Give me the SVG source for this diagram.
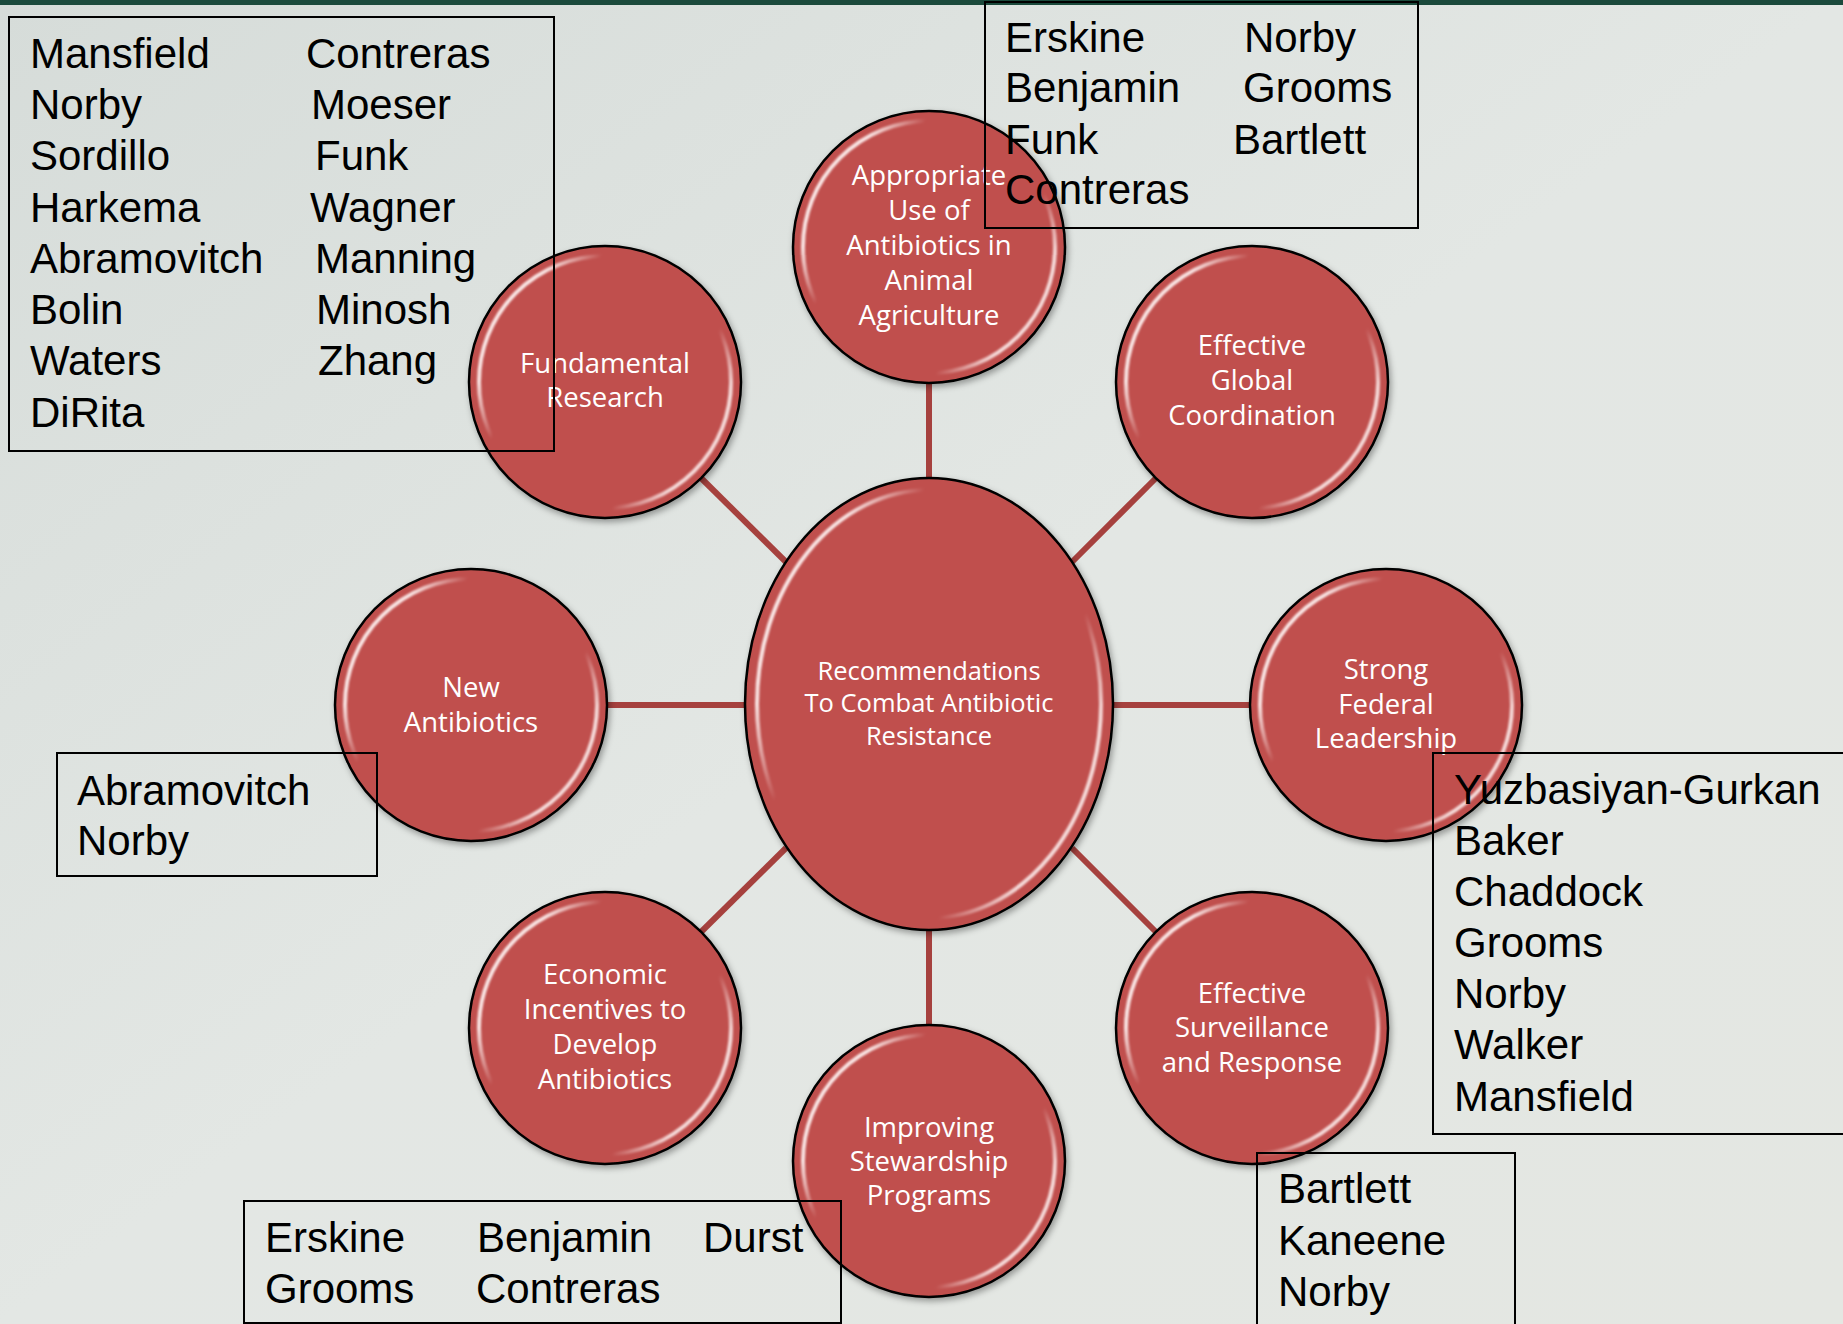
<svg xmlns="http://www.w3.org/2000/svg" width="1843" height="1324" viewBox="0 0 1843 1324">
  <defs>
    <linearGradient id="bgGrad" x1="0" y1="0" x2="1" y2="1">
      <stop offset="0" stop-color="#d6dcd9"/>
      <stop offset="0.5" stop-color="#e3e7e4"/>
      <stop offset="1" stop-color="#e4e7e2"/>
    </linearGradient>
    <linearGradient id="hlGrad" x1="0" y1="0.2" x2="1" y2="0.8">
      <stop offset="0" stop-color="#fff3f2" stop-opacity="0.95"/>
      <stop offset="0.13" stop-color="#fff3f2" stop-opacity="0.9"/>
      <stop offset="0.27" stop-color="#fff3f2" stop-opacity="0"/>
      <stop offset="0.74" stop-color="#fff3f2" stop-opacity="0"/>
      <stop offset="0.88" stop-color="#fff3f2" stop-opacity="0.85"/>
      <stop offset="1" stop-color="#fff3f2" stop-opacity="0.85"/>
    </linearGradient>
    <filter id="shadow" x="-20%" y="-20%" width="140%" height="140%">
      <feDropShadow dx="2" dy="3" stdDeviation="3" flood-color="#000" flood-opacity="0.35"/>
    </filter>
    <filter id="soft" x="-10%" y="-10%" width="120%" height="120%">
      <feGaussianBlur stdDeviation="1.3"/>
    </filter>
    <style>
      .conn { stroke: #a6413e; stroke-width: 6; fill: none; }
      .node { fill: #c0504d; stroke: #000; stroke-width: 2.5; filter: url(#shadow); }
      .hl { fill: none; stroke: url(#hlGrad); stroke-width: 4; filter: url(#soft); }
      .lbl { font-family: "Open Sans", "Noto Sans", sans-serif; font-size: 27.5px; fill: #ffffff; text-anchor: middle; }
      .clbl { font-family: "Open Sans", "Noto Sans", sans-serif; font-size: 25.5px; fill: #ffffff; text-anchor: middle; }
      .names { font-family: "Liberation Sans", Arial, sans-serif; font-size: 42px; fill: #000000; }
      .box { fill: none; stroke: #000; stroke-width: 2; }
    </style>
  </defs>

  <rect x="0" y="0" width="1843" height="1324" fill="url(#bgGrad)"/>
  <rect x="0" y="0" width="1843" height="5" fill="#1b4a3c"/>

  <g id="connectors">
    <line class="conn" x1="929" y1="383" x2="929" y2="478"/>
    <line class="conn" x1="929" y1="929" x2="929" y2="1025"/>
    <line class="conn" x1="607" y1="705" x2="746" y2="705"/>
    <line class="conn" x1="1112" y1="705" x2="1250" y2="705"/>
    <line class="conn" x1="701" y1="478" x2="786" y2="562"/>
    <line class="conn" x1="1156" y1="478" x2="1072" y2="562"/>
    <line class="conn" x1="701" y1="932" x2="786" y2="848"/>
    <line class="conn" x1="1156" y1="932" x2="1072" y2="848"/>
  </g>

  <g id="node-center">
    <ellipse class="node" cx="929" cy="704" rx="184" ry="226"/>
    <ellipse class="hl" cx="929" cy="704" rx="172" ry="214"/>
    <text class="clbl" x="929" y="680">Recommendations</text>
    <text class="clbl" x="929" y="712">To Combat Antibiotic</text>
    <text class="clbl" x="929" y="745">Resistance</text>
  </g>

  <g id="node-appropriate-use">
    <circle class="node" cx="929" cy="247" r="136"/>
    <circle class="hl" cx="929" cy="247" r="126"/>
    <text class="lbl" x="929" y="185">Appropriate</text>
    <text class="lbl" x="929" y="220">Use of</text>
    <text class="lbl" x="929" y="255">Antibiotics in</text>
    <text class="lbl" x="929" y="290">Animal</text>
    <text class="lbl" x="929" y="325">Agriculture</text>
  </g>

  <g id="node-fundamental-research">
    <circle class="node" cx="605" cy="382" r="136"/>
    <circle class="hl" cx="605" cy="382" r="126"/>
    <text class="lbl" x="605" y="373">Fundamental</text>
    <text class="lbl" x="605" y="407">Research</text>
  </g>

  <g id="node-global-coordination">
    <circle class="node" cx="1252" cy="382" r="136"/>
    <circle class="hl" cx="1252" cy="382" r="126"/>
    <text class="lbl" x="1252" y="355">Effective</text>
    <text class="lbl" x="1252" y="390">Global</text>
    <text class="lbl" x="1252" y="425">Coordination</text>
  </g>

  <g id="node-new-antibiotics">
    <circle class="node" cx="471" cy="705" r="136"/>
    <circle class="hl" cx="471" cy="705" r="126"/>
    <text class="lbl" x="471" y="697">New</text>
    <text class="lbl" x="471" y="732">Antibiotics</text>
  </g>

  <g id="node-federal-leadership">
    <circle class="node" cx="1386" cy="705" r="136"/>
    <circle class="hl" cx="1386" cy="705" r="126"/>
    <text class="lbl" x="1386" y="679">Strong</text>
    <text class="lbl" x="1386" y="714">Federal</text>
    <text class="lbl" x="1386" y="748">Leadership</text>
  </g>

  <g id="node-economic-incentives">
    <circle class="node" cx="605" cy="1028" r="136"/>
    <circle class="hl" cx="605" cy="1028" r="126"/>
    <text class="lbl" x="605" y="984">Economic</text>
    <text class="lbl" x="605" y="1019">Incentives to</text>
    <text class="lbl" x="605" y="1054">Develop</text>
    <text class="lbl" x="605" y="1089">Antibiotics</text>
  </g>

  <g id="node-stewardship">
    <circle class="node" cx="929" cy="1161" r="136"/>
    <circle class="hl" cx="929" cy="1161" r="126"/>
    <text class="lbl" x="929" y="1137">Improving</text>
    <text class="lbl" x="929" y="1171">Stewardship</text>
    <text class="lbl" x="929" y="1205">Programs</text>
  </g>

  <g id="node-surveillance">
    <circle class="node" cx="1252" cy="1028" r="136"/>
    <circle class="hl" cx="1252" cy="1028" r="126"/>
    <text class="lbl" x="1252" y="1003">Effective</text>
    <text class="lbl" x="1252" y="1037">Surveillance</text>
    <text class="lbl" x="1252" y="1072">and Response</text>
  </g>

  <g id="names-fundamental">
    <rect class="box" x="9" y="17" width="545" height="434"/>
    <text class="names" x="30" y="68">Mansfield</text>
    <text class="names" x="30" y="119">Norby</text>
    <text class="names" x="30" y="170">Sordillo</text>
    <text class="names" x="30" y="222">Harkema</text>
    <text class="names" x="30" y="273">Abramovitch</text>
    <text class="names" x="30" y="324">Bolin</text>
    <text class="names" x="30" y="375">Waters</text>
    <text class="names" x="30" y="427">DiRita</text>
    <text class="names" x="306" y="68">Contreras</text>
    <text class="names" x="311" y="119">Moeser</text>
    <text class="names" x="315" y="170">Funk</text>
    <text class="names" x="310" y="222">Wagner</text>
    <text class="names" x="315" y="273">Manning</text>
    <text class="names" x="316" y="324">Minosh</text>
    <text class="names" x="318" y="375">Zhang</text>
  </g>

  <g id="names-animal-agriculture">
    <rect class="box" x="985" y="2" width="433" height="226"/>
    <text class="names" x="1005" y="52">Erskine</text>
    <text class="names" x="1005" y="102">Benjamin</text>
    <text class="names" x="1005" y="154">Funk</text>
    <text class="names" x="1005" y="204">Contreras</text>
    <text class="names" x="1244" y="52">Norby</text>
    <text class="names" x="1243" y="102">Grooms</text>
    <text class="names" x="1233" y="154">Bartlett</text>
  </g>

  <g id="names-new-antibiotics">
    <rect class="box" x="57" y="753" width="320" height="123"/>
    <text class="names" x="77" y="805">Abramovitch</text>
    <text class="names" x="77" y="855">Norby</text>
  </g>

  <g id="names-federal-leadership">
    <rect class="box" x="1433" y="753" width="420" height="381"/>
    <text class="names" x="1454" y="804">Yuzbasiyan-Gurkan</text>
    <text class="names" x="1454" y="855">Baker</text>
    <text class="names" x="1454" y="906">Chaddock</text>
    <text class="names" x="1454" y="957">Grooms</text>
    <text class="names" x="1454" y="1008">Norby</text>
    <text class="names" x="1454" y="1059">Walker</text>
    <text class="names" x="1454" y="1111">Mansfield</text>
  </g>

  <g id="names-surveillance">
    <rect class="box" x="1257" y="1153" width="258" height="190"/>
    <text class="names" x="1278" y="1203">Bartlett</text>
    <text class="names" x="1278" y="1255">Kaneene</text>
    <text class="names" x="1278" y="1306">Norby</text>
  </g>

  <g id="names-stewardship">
    <rect class="box" x="244" y="1201" width="597" height="122"/>
    <text class="names" x="265" y="1252">Erskine</text>
    <text class="names" x="265" y="1303">Grooms</text>
    <text class="names" x="477" y="1252">Benjamin</text>
    <text class="names" x="476" y="1303">Contreras</text>
    <text class="names" x="703" y="1252">Durst</text>
  </g>
</svg>
